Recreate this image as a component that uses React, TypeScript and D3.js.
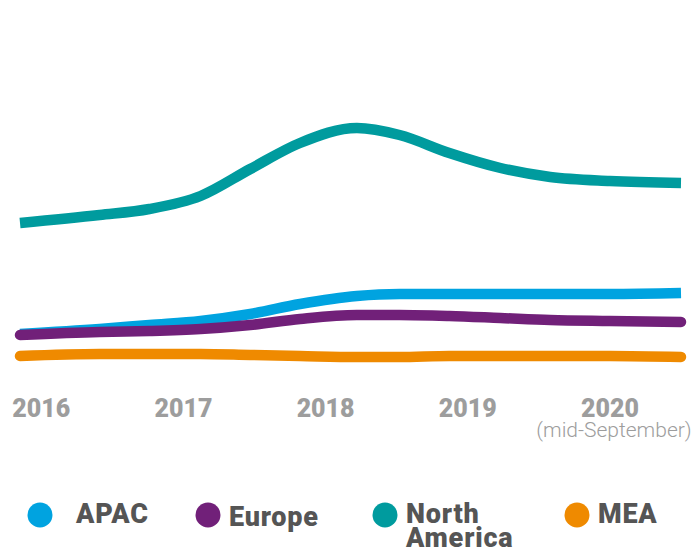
import React, { useEffect, useRef } from 'react';
import * as d3 from 'd3';

// time axis (fractional years) shared by every series
const times = [2015.85, 2016.41, 2016.76, 2017.12, 2017.47, 2017.82, 2018.22, 2018.52, 2018.87, 2019.23, 2019.58, 2020.0, 2020.5];
const northAmerica = [147, 155, 161, 174, 201, 227, 242, 235, 217, 202, 193, 189, 187];
const apac = [36, 41, 45, 49, 56, 66, 74, 76, 76, 76, 76, 76, 77];
const europe = [35, 38, 39, 41, 45, 51, 55, 55, 54, 52, 50, 49, 48];
const mea = [14, 16, 16, 16, 15, 14, 13, 13, 14, 14, 14, 14, 13];

const tickYears = [2016, 2017, 2018, 2019, 2020];

interface Series {
  name: string[];
  values: number[];
  color: string;
  cap: string;
}

const series: Series[] = [
  { name: ['North', 'America'], values: northAmerica, color: '#009b9e', cap: 'butt' },
  { name: ['APAC'], values: apac, color: '#00a3e0', cap: 'butt' },
  { name: ['Europe'], values: europe, color: '#712079', cap: 'round' },
  { name: ['MEA'], values: mea, color: '#ef8a00', cap: 'round' },
];

const legendOrder = ['APAC', 'Europe', 'North', 'MEA'];

export default function App() {
  const ref = useRef<SVGSVGElement>(null);

  useEffect(() => {
    document.body.style.margin = '0';
    if (!ref.current) return;
    const svg = d3.select(ref.current);
    svg.selectAll('*').remove();

    const x = d3.scaleLinear().domain([2015.85, 2020.5]).range([20, 681]);
    const y = d3.scaleLinear().domain([0, 260]).range([370, 110]);

    const line = d3
      .line<number>()
      .x((_, i) => x(times[i]))
      .y(d => y(d))
      .curve(d3.curveMonotoneX);

    series.forEach(s => {
      svg
        .append('path')
        .attr('d', line(s.values) as string)
        .attr('fill', 'none')
        .attr('stroke', s.color)
        .attr('stroke-width', 10.5)
        .attr('stroke-linecap', s.cap);
    });

    // x axis labels
    const axis = svg.append('g');
    axis
      .selectAll('text.tick')
      .data(tickYears)
      .enter()
      .append('text')
      .attr('class', 'tick')
      .attr('x', d => x(d))
      .attr('y', 417)
      .attr('text-anchor', 'middle')
      .attr('font-family', 'Roboto, sans-serif')
      .attr('font-weight', 900)
      .attr('font-size', 25)
      .attr('fill', '#9d9d9d')
      .text(d => d);

    axis
      .append('text')
      .attr('x', 614)
      .attr('y', 437)
      .attr('text-anchor', 'middle')
      .attr('font-family', 'Roboto, sans-serif')
      .attr('font-weight', 300)
      .attr('font-size', 21)
      .attr('fill', '#9d9d9d')
      .text('(mid-September)');

    // legend
    const legendX = [40, 208, 385, 577];
    const legend = svg.append('g');
    legendOrder.forEach((key, i) => {
      const s = series.find(d => d.name[0] === key)!;
      const g = legend.append('g').attr('transform', `translate(${legendX[i]},515)`);
      g.append('circle').attr('r', 12.5).attr('fill', s.color);
      const gap = key === 'APAC' ? 36 : 21;
      const t = g
        .append('text')
        .attr('x', gap)
        .attr('y', key === 'Europe' ? 11 : 8)
        .attr('font-family', 'Roboto, sans-serif')
        .attr('font-weight', 900)
        .attr('font-size', 27)
        .attr('letter-spacing', 0.8)
        .attr('fill', '#555555');
      s.name.forEach((n, j) => {
        t.append('tspan').attr('x', gap).attr('dy', j === 0 ? 0 : 24).text(n);
      });
    });
  }, []);

  return <svg ref={ref} width={698} height={548} style={{ display: 'block' }} />;
}
